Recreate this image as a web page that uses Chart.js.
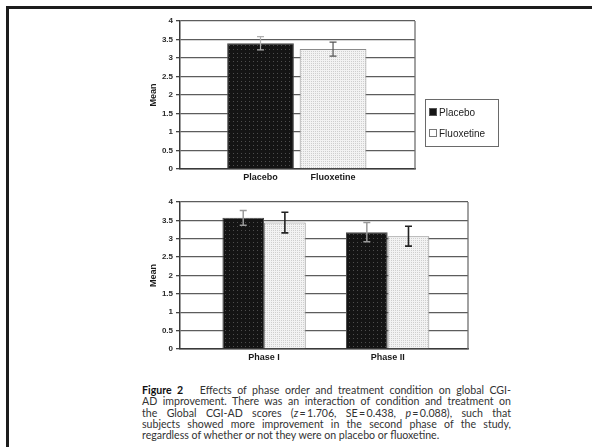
<!DOCTYPE html>
<html>
<head>
<meta charset="utf-8">
<script src="https://cdn.jsdelivr.net/npm/chart.js@4/dist/chart.umd.min.js"></script>
<style>
  html, body { margin: 0; padding: 0; background: #fff; }
  body { width: 592px; height: 447px; position: relative; overflow: hidden; }
  #frame { position: absolute; left: 6px; top: 6px; width: 600px; height: 460px;
           border-top: 3px solid #1c1c1c; border-left: 3px solid #1c1c1c; }
  .chart { position: absolute; left: 0; width: 592px; height: 190px; }
  #topChart { top: 0; }
  #phaseChart { top: 185px; }
  #legend { position: absolute; left: 425px; top: 99px; width: 72px; height: 46px;
            border: 1.5px solid #6a6a6a; font: 10px "Liberation Sans", Arial, sans-serif; color: #222; }
  #legend .row { position: absolute; left: 3px; height: 12px; line-height: 12px; white-space: nowrap; }
  #legend .sw { display: inline-block; width: 6px; height: 6px; margin-right: 2px; vertical-align: 0px;
                border: 1px solid #555; }
  #caption { position: absolute; left: 142px; top: 385px; width: 369px;
             font: 10.6px Lato, "Open Sans", sans-serif; color: #333; line-height: 11.3px; }
  #caption div { text-align: justify; text-align-last: justify; white-space: nowrap; }
  #caption div.last { text-align-last: left; }
  #caption b { font-weight: 700; color: #111; }
</style>
</head>
<body>
<div id="frame"></div>
<canvas id="topChart" class="chart" width="592" height="190"></canvas>
<canvas id="phaseChart" class="chart" width="592" height="190"></canvas>
<div id="legend">
  <div class="row" style="top:7px"><span class="sw" style="background:#151515"></span>Placebo</div>
  <div class="row" style="top:28px"><span class="sw" style="background:#fff;border-color:#777"></span>Fluoxetine</div>
</div>
<div id="caption">
  <div><b>Figure 2</b>&nbsp;&nbsp; Effects of phase order and treatment condition on global CGI-</div>
  <div>AD improvement. There was an interaction of condition and treatment on</div>
  <div>the Global CGI-AD scores (<i>z</i>&thinsp;=&thinsp;1.706, SE&thinsp;=&thinsp;0.438, <i>p</i>&thinsp;=&thinsp;0.088), such that</div>
  <div>subjects showed more improvement in the second phase of the study,</div>
  <div class="last">regardless of whether or not they were on placebo or fluoxetine.</div>
</div>
<script>
// ---- data ----
const treatmentLabels = ['Placebo', 'Fluoxetine'];
const treatmentMeans = [3.40, 3.24];
const treatmentErrors = [0.18, 0.19];

const phaseLabels = ['Phase I', 'Phase II'];
const placeboByPhase = [3.57, 3.18];
const placeboByPhaseErrors = [0.20, 0.26];
const fluoxetineByPhase = [3.44, 3.07];
const fluoxetineByPhaseErrors = [0.28, 0.27];

const yTicks = [0, 0.5, 1, 1.5, 2, 2.5, 3, 3.5, 4];

// ---- styling helpers ----
Chart.defaults.animation = false;
Chart.defaults.font.family = '"Liberation Sans", Arial, sans-serif';
Chart.defaults.color = '#222';

function dotPattern(base, dot, step) {
  const c = document.createElement('canvas');
  c.width = step; c.height = step;
  const g = c.getContext('2d');
  g.fillStyle = base; g.fillRect(0, 0, step, step);
  g.fillStyle = dot; g.fillRect(1, 1, 1, 1);
  return g.createPattern(c, 'repeat');
}
const placeboFill = dotPattern('#141414', '#4d4d4d', 4);
const fluoxetineFill = dotPattern('#f3f3f3', '#cfcfcf', 2);

// Excel-like error bars drawn from each dataset's "errors" array
const errorBars = {
  id: 'errorBars',
  afterDatasetsDraw(chart) {
    const g = chart.ctx;
    const y = chart.scales.y;
    chart.data.datasets.forEach((ds, i) => {
      const meta = chart.getDatasetMeta(i);
      meta.data.forEach((bar, j) => {
        const v = ds.data[j];
        if (v === null || v === undefined) return;
        const e = ds.errors[j];
        const yt = y.getPixelForValue(v + e);
        const yb = y.getPixelForValue(v - e);
        g.save();
        g.strokeStyle = ds.errorColor;
        g.lineWidth = ds.errorWidth;
        g.beginPath();
        g.moveTo(bar.x, yt); g.lineTo(bar.x, yb);
        g.moveTo(bar.x - 3.5, yt); g.lineTo(bar.x + 3.5, yt);
        g.moveTo(bar.x - 3.5, yb); g.lineTo(bar.x + 3.5, yb);
        g.stroke();
        g.restore();
      });
    });
  }
};

// right-hand edge of the plot area
const plotFrame = {
  id: 'plotFrame',
  beforeDatasetsDraw(chart) {
    const a = chart.chartArea, g = chart.ctx;
    g.save();
    g.strokeStyle = '#6f6f6f';
    g.lineWidth = 1.3;
    g.beginPath();
    g.moveTo(a.right, a.top); g.lineTo(a.right, a.bottom);
    g.stroke();
    g.restore();
  }
};

function baseScales(bandStart, bandRange) {
  return {
    x: {
      stacked: true,
      grid: { display: false, drawTicks: false },
      border: { display: true, color: '#3a3a3a', width: 1.5 },
      ticks: { padding: 3, font: { size: 9, weight: 'bold' }, color: '#1a1a1a', maxRotation: 0 },
      afterFit(s) { s.height = 20; },
      // place the category bands inside the plot width
      afterBuildTicks(s) { s._startValue = bandStart; s._valueRange = bandRange; }
    },
    y: {
      min: 0, max: 4,
      afterBuildTicks(s) { s.ticks = yTicks.map(v => ({ value: v })); },
      afterFit(s) { s.width = 32; },
      grid: { color: '#5c5c5c', lineWidth: 1.3, tickLength: 4, tickColor: '#444' },
      border: { display: true, color: '#3a3a3a', width: 1.5 },
      ticks: { padding: 3, font: { size: 8, weight: 'bold' }, color: '#2a2a2a',
               callback: v => String(v) },
      title: { display: true, text: 'Mean', padding: 0, font: { size: 9, weight: 'bold' }, color: '#1a1a1a' }
    }
  };
}

const commonPlugins = {
  legend: { display: false },
  tooltip: { enabled: false }
};

// treatment comparison
new Chart(document.getElementById('topChart'), {
  type: 'bar',
  data: {
    labels: treatmentLabels,
    datasets: [
      { label: 'Placebo', data: [treatmentMeans[0], null], errors: [treatmentErrors[0], 0],
        backgroundColor: placeboFill, borderColor: '#4a4a4a', borderWidth: 1,
        errorColor: '#b0b0b0', errorWidth: 1.2 },
      { label: 'Fluoxetine', data: [null, treatmentMeans[1]], errors: [0, treatmentErrors[1]],
        backgroundColor: fluoxetineFill, borderColor: '#8a8a8a', borderWidth: 1,
        errorColor: '#555', errorWidth: 1.2 }
    ]
  },
  options: {
    responsive: false,
    devicePixelRatio: 1,
    layout: { padding: { left: 148, right: 177, top: 21, bottom: 1 } },
    categoryPercentage: 0.92,
    barPercentage: 1,
    scales: baseScales(-1.11, 3.24),
    plugins: commonPlugins
  },
  plugins: [plotFrame, errorBars]
});

// treatment by phase
new Chart(document.getElementById('phaseChart'), {
  type: 'bar',
  data: {
    labels: phaseLabels,
    datasets: [
      { label: 'Placebo', data: placeboByPhase, errors: placeboByPhaseErrors,
        backgroundColor: placeboFill, borderColor: '#4a4a4a', borderWidth: 1,
        errorColor: '#9a9a9a', errorWidth: 1.5 },
      { label: 'Fluoxetine', data: fluoxetineByPhase, errors: fluoxetineByPhaseErrors,
        backgroundColor: fluoxetineFill, borderColor: '#8a8a8a', borderWidth: 1,
        errorColor: '#222', errorWidth: 1.6 }
    ]
  },
  options: {
    responsive: false,
    devicePixelRatio: 1,
    layout: { padding: { left: 148, right: 124, top: 17, bottom: 6 } },
    categoryPercentage: 0.674,
    barPercentage: 1,
    scales: (() => { const s = baseScales(-0.68, 2.33); s.x.stacked = false; return s; })(),
    plugins: commonPlugins
  },
  plugins: [plotFrame, errorBars]
});
</script>
</body>
</html>
